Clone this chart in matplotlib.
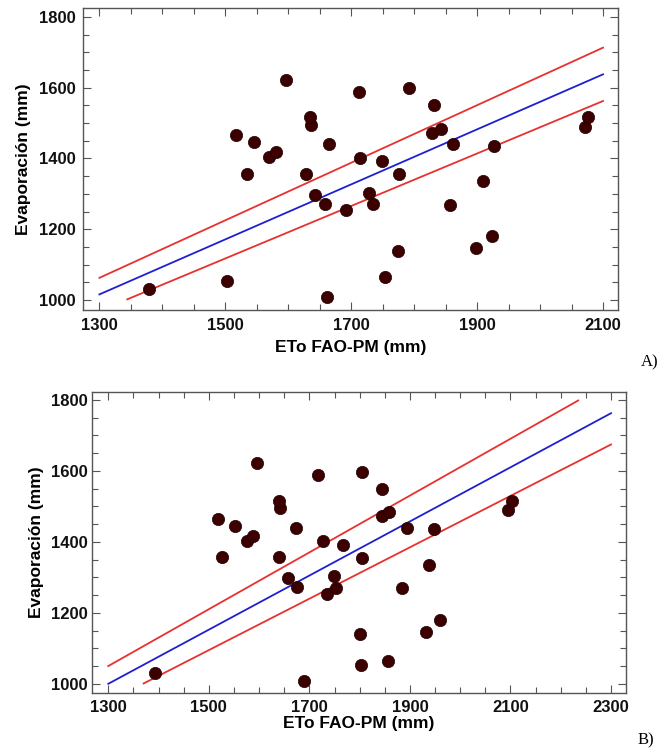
import matplotlib.pyplot as plt
import numpy as np
from matplotlib.ticker import MultipleLocator

# Evaporación medida (mm), igual en ambos paneles
evap = [1031, 1053, 1009, 1065, 1140, 1147, 1180, 1254, 1272, 1271,
        1270, 1298, 1303, 1335, 1356, 1357, 1355, 1392, 1401, 1403,
        1417, 1436, 1440, 1440, 1446, 1465, 1473, 1483, 1490, 1495,
        1516, 1516, 1550, 1588, 1598, 1622]

# ETo FAO-PM (mm), panel A
eto_a = [1378, 1502, 1661, 1753, 1774, 1899, 1924, 1692, 1658, 1734,
         1857, 1642, 1728, 1909, 1628, 1535, 1776, 1749, 1714, 1570,
         1580, 1927, 1665, 1861, 1546, 1517, 1828, 1842, 2071, 1636,
         1634, 2076, 1831, 1712, 1791, 1597]

# ETo FAO-PM (mm), panel B
eto_b = [1393, 1803, 1689, 1856, 1801, 1931, 1960, 1736, 1675, 1753,
         1884, 1658, 1749, 1938, 1640, 1526, 1804, 1766, 1728, 1575,
         1588, 1948, 1673, 1895, 1552, 1519, 1844, 1858, 2096, 1642,
         1640, 2103, 1845, 1718, 1805, 1596]

xticks_a = [1300, 1500, 1700, 1900, 2100]
xticks_b = [1300, 1500, 1700, 1900, 2100, 2300]
yticks = [1000, 1200, 1400, 1600, 1800]

# recta ajustada: intercepto, pendiente, banda relativa, rango de x
fit_a = (6.0, 0.777, 0.046, 1300, 2100)
fit_b = (8.75, 0.7625, 0.05, 1300, 2300)

plt.rcParams["font.family"] = ["Liberation Sans", "DejaVu Sans"]
fig = plt.figure(figsize=(6.59, 7.49), dpi=100)

ax_a = fig.add_axes([0.126, 0.5861, 0.812, 0.4032])
ax_b = fig.add_axes([0.1391, 0.0752, 0.811, 0.4018])


def draw_panel(ax, x, y, fit, xlim, ylim, xticks, ypad, xlpad, ylpad):
    b0, b1, band, x0, x1 = fit
    xs = np.linspace(x0, x1, 200)
    yf = b0 + b1 * xs
    up = yf * (1 + band)
    lo = yf * (1 - band)
    up = np.where((up >= 1000) & (up <= 1800), up, np.nan)
    lo = np.where((lo >= 1000) & (lo <= 1800), lo, np.nan)
    ax.plot(xs, up, color="#e8312f", lw=1.3, zorder=2)
    ax.plot(xs, lo, color="#e8312f", lw=1.3, zorder=2)
    ax.plot(xs, yf, color="#1f1fd0", lw=1.3, zorder=2)
    ax.scatter(x, y, s=78, color="#3d0000", edgecolors="#1a0000",
               linewidths=0.5, zorder=3)

    ax.set_xlim(*xlim)
    ax.set_ylim(*ylim)
    ax.set_xticks(xticks)
    ax.set_yticks(yticks)
    ax.xaxis.set_minor_locator(MultipleLocator(50))
    ax.yaxis.set_minor_locator(MultipleLocator(50))
    ax.tick_params(which="both", direction="in", top=True, right=True,
                   color="#555555", width=0.8)
    ax.tick_params(which="major", length=5.5, labelsize=12)
    ax.tick_params(which="minor", length=4)
    ax.tick_params(axis="x", pad=5.5)
    ax.tick_params(axis="y", pad=ypad)
    for lab in ax.get_xticklabels() + ax.get_yticklabels():
        lab.set_fontweight("bold")
        lab.set_color("#111111")
    for sp in ax.spines.values():
        sp.set_color("#555555")
        sp.set_linewidth(1.0)
    ax.set_xlabel("ETo FAO-PM (mm)", fontsize=12.5, fontweight="bold",
                  labelpad=xlpad)
    ax.set_ylabel("Evaporación (mm)", fontsize=12.5, fontweight="bold",
                  labelpad=ylpad)


draw_panel(ax_a, eto_a, evap, fit_a, (1274, 2124), (972, 1825), xticks_a,
           5.0, 5.5, 6.0)
draw_panel(ax_b, eto_b, evap, fit_b, (1267, 2330), (975, 1823), xticks_b,
           3.0, 0.5, 5.0)

fig.text(641 / 659, 1 - 362 / 749, "A)", family=["Liberation Serif"],
         fontsize=12, va="center", ha="left")
fig.text(638 / 659, 1 - 748 / 749, "B)", family=["Liberation Serif"],
         fontsize=12, va="bottom", ha="left")

fig.savefig("out.png", dpi=100)
plt.close(fig)
